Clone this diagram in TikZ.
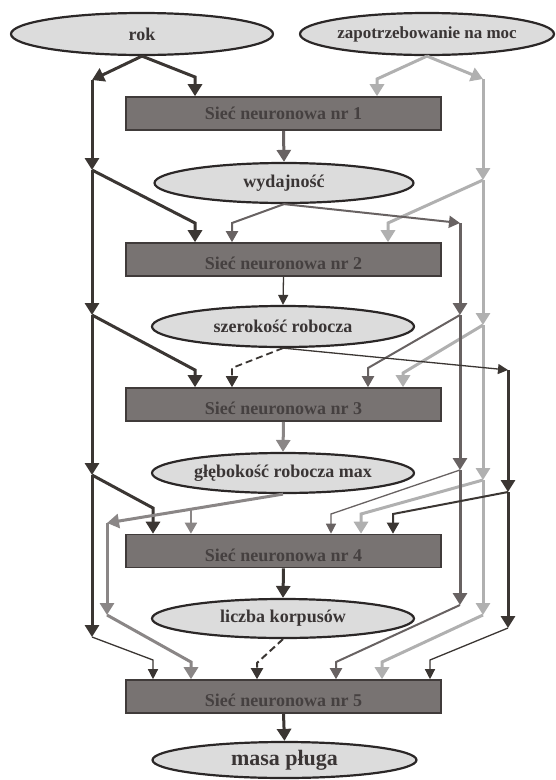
\documentclass[tikz,border=0pt]{standalone}
\usepackage{fontspec}
\setmainfont{Liberation Serif}
\usetikzlibrary{shapes.geometric,arrows.meta}
\definecolor{ellF}{HTML}{DCDCDC}
\definecolor{ellB}{HTML}{2B2727}
\definecolor{boxF}{HTML}{787372}
\definecolor{boxB}{HTML}{403B3A}
\definecolor{boxT}{HTML}{454040}
\definecolor{txt}{HTML}{3A3535}
\definecolor{cD}{HTML}{3B3633}
\definecolor{cM}{HTML}{686262}
\definecolor{cG}{HTML}{8A8686}
\definecolor{cL}{HTML}{B0B0B0}
\begin{document}
\begin{tikzpicture}[x=1pt,y=-1pt,
  ell/.style={ellipse, draw=ellB, fill=ellF, line width=2.2pt, inner sep=0pt, text=txt, font=\bfseries\fontsize{18}{20}\selectfont},
  nnbox/.style={rectangle, draw=boxB, fill=boxF, line width=1.6pt, minimum width=315pt, minimum height=33pt, inner sep=0pt, text=boxT, font=\bfseries\fontsize{18}{20}\selectfont},
  lowtext/.style={text height=20pt, text depth=0pt},
  thick3/.style={line width=3pt, -{Triangle[length=12pt,width=14pt]}},
  mid2/.style={line width=2pt, -{Triangle[length=11pt,width=12pt]}},
  thin1/.style={line width=1.3pt, -{Triangle[length=10pt,width=10pt]}},
  dsh/.style={dash pattern=on 7pt off 4pt}
]
\useasboundingbox (0,0) rectangle (555,780);
% nodes
\node[ell, minimum width=262pt, minimum height=42pt] (rok) at (142,34) {rok};
\node[ell, minimum width=254pt, minimum height=42pt, font=\bfseries\fontsize{17}{20}\selectfont] (zap) at (427,34) {zapotrzebowanie na moc};
\node[nnbox] (n1) at (283.5,113.5) {Sieć neuronowa nr 1};
\node[ell, minimum width=259pt, minimum height=40pt] (wyd) at (284,183) {wydajność};
\node[nnbox, lowtext] (n2) at (283.5,259.5) {Sieć neuronowa nr 2};
\node[ell, minimum width=262pt, minimum height=41pt] (szer) at (283,326.5) {szerokość robocza};
\node[nnbox, lowtext] (n3) at (283.5,404.5) {Sieć neuronowa nr 3};
\node[ell, minimum width=262pt, minimum height=40pt] (gleb) at (283,473) {głębokość robocza max};
\node[nnbox, lowtext] (n4) at (283.5,551) {Sieć neuronowa nr 4};
\node[ell, minimum width=262pt, minimum height=39pt] (licz) at (283,618.5) {liczba korpusów};
\node[nnbox, lowtext] (n5) at (283.5,696.5) {Sieć neuronowa nr 5};
\node[ell, minimum width=264pt, minimum height=36pt, font=\bfseries\fontsize{22}{24}\selectfont] (masa) at (284.5,760) {masa pługa};
% rok trunk
\coordinate (a1) at (92,80);
\coordinate (a2) at (92,170);
\coordinate (a3) at (92,315);
\coordinate (a4) at (92,475);
\coordinate (a5) at (92,637);
\coordinate (rc) at (195,77);
\coordinate (k2) at (195,223);
\coordinate (k3) at (195,370);
\coordinate (k4) at (153,508);
\coordinate (k5) at (153,660);
\draw[thick3, cD] (rok.south) -- (a1);
\draw[thick3, cD] (a1) -- (a2);
\draw[thick3, cD] (a2) -- (a3);
\draw[thick3, cD] (a3) -- (a4);
\draw[thick3, cD] (a4) -- (a5);
\draw[thick3, cD] (rok.south) -- (rc) -- (rc |- n1.north);
\draw[thick3, cD] (a2) -- (k2) -- (k2 |- n2.north);
\draw[thick3, cD] (a3) -- (k3) -- (k3 |- n3.north);
\draw[thick3, cD] (a4) -- (k4) -- (k4 |- n4.north);
\draw[thin1, cD] (a5) -- (k5) -- (k5 |- n5.north);
% zap trunk
\coordinate (b1) at (483,79);
\coordinate (b2) at (483,180);
\coordinate (b3) at (483,325);
\coordinate (b4) at (483,480);
\coordinate (b5) at (483,615);
\coordinate (zc) at (377,79);
\coordinate (m2) at (388,223);
\coordinate (m3) at (403,373);
\coordinate (m4) at (361,514);
\coordinate (m5) at (382,662);
\draw[thick3, cL] (zap.south) -- (b1);
\draw[thick3, cL] (b1) -- (b2);
\draw[thick3, cL] (b2) -- (b3);
\draw[thick3, cL] (b3) -- (b4);
\draw[thick3, cL] (b4) -- (b5);
\draw[thick3, cL] (zap.south) -- (zc) -- (zc |- n1.north);
\draw[thick3, cL] (b2) -- (m2) -- (m2 |- n2.north);
\draw[thick3, cL] (b3) -- (m3) -- (m3 |- n3.north);
\draw[thick3, cL] (b4) -- (m4) -- (m4 |- n4.north);
\draw[thick3, cL] (b5) -- (m5) -- (m5 |- n5.north);
% wydajnosc
\draw[thick3, cM] (n1.south) -- (wyd.north);
\coordinate (c1) at (460,223);
\coordinate (c2) at (460,315);
\coordinate (c3) at (460,470);
\coordinate (c4) at (460,605);
\coordinate (w2) at (232,223);
\coordinate (w3) at (368,368);
\coordinate (w4) at (331,514);
\coordinate (w5) at (336,662);
\draw[mid2, cM] (wyd.south) -- (w2) -- (w2 |- n2.north);
\draw[mid2, cM] (wyd.south) -- (c1);
\draw[thick3, cM] (c1) -- (c2);
\draw[thick3, cM] (c2) -- (c3);
\draw[thick3, cM] (c3) -- (c4);
\draw[mid2, cM] (c2) -- (w3) -- (w3 |- n3.north);
\draw[thin1, cM] (c3) -- (w4) -- (w4 |- n4.north);
\draw[mid2, cM] (c4) -- (w5) -- (w5 |- n5.north);
% szerokosc
\draw[thin1, cD] (n2.south) -- (szer.north);
\coordinate (s3) at (232,368);
\coordinate (d1) at (508,370);
\coordinate (d2) at (508,492);
\coordinate (d3) at (508,628);
\coordinate (s4) at (393,514);
\coordinate (s5) at (430,660);
\draw[mid2, line width=1.8pt, cD, dsh] (szer.south) -- (s3) -- (s3 |- n3.north);
\draw[thin1, cD] (szer.south) -- (d1);
\draw[thick3, cD] (d1) -- (d2);
\draw[thick3, cD] (d2) -- (d3);
\draw[mid2, cD] (d2) -- (s4) -- (s4 |- n4.north);
\draw[thin1, cD] (d3) -- (s5) -- (s5 |- n5.north);
% glebokosc
\draw[thick3, cG] (n3.south) -- (gleb.north);
\coordinate (e1) at (107,523);
\coordinate (e2) at (107,615);
\coordinate (g5) at (191,662);
\path (gleb.south) -- (e1) coordinate[pos=0.523] (g4);
\draw[thick3, cG] (gleb.south) -- (e1);
\draw[thick3, cG] (e1) -- (e2);
\draw[mid2, cG] (g4) -- (g4 |- n4.north);
\draw[thick3, cG] (e2) -- (g5) -- (g5 |- n5.north);
% liczba
\draw[thick3, cD] (n4.south) -- (licz.north);
\coordinate (l5) at (257,663);
\draw[mid2, cD, dsh] (licz.south) -- (l5) -- (l5 |- n5.north);
\draw[thick3, cD] (n5.south) -- (masa.north);
\end{tikzpicture}
\end{document}
